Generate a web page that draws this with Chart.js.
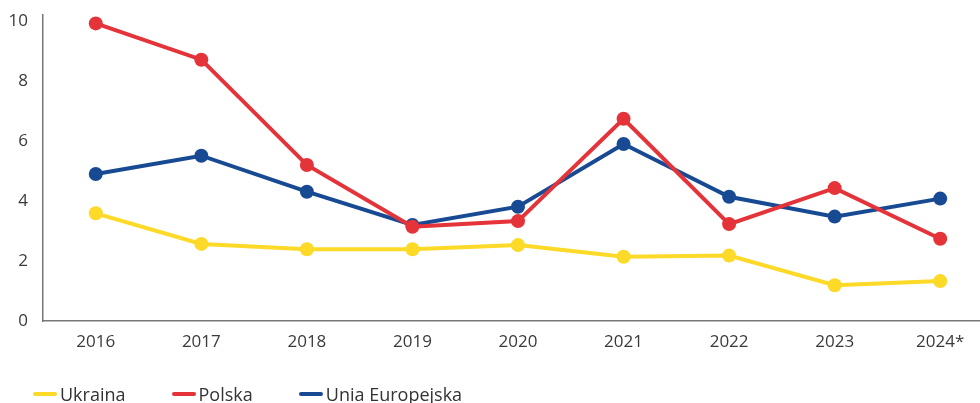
<!DOCTYPE html>
<html>
<head>
<meta charset="utf-8">
<script src="https://cdn.jsdelivr.net/npm/chart.js@4.4.1/dist/chart.umd.min.js"></script>
<style>
  html, body { margin: 0; padding: 0; background: #fff; overflow: hidden; }
  #wrap { position: relative; width: 980px; height: 403px; overflow: hidden; }
  #box { position: absolute; left: 0; top: 0; width: 1000px; height: 403px; }
  #legend { position: absolute; left: 33px; top: 384px; display: flex; font-family: "Open Sans", sans-serif; font-size: 18px; color: #333; line-height: 20px; }
  #legend .item { display: flex; align-items: center; margin-right: 46px; }
  #legend .swatch { width: 24px; height: 4px; margin-right: 3px; border-radius: 2px; }
</style>
</head>
<body>
<div id="wrap">
  <div id="box"><canvas id="myChart1" width="1000" height="403"></canvas></div>
  <div id="legend"></div>
</div>
<script>
  // data
  var years = ['2016', '2017', '2018', '2019', '2020', '2021', '2022', '2023', '2024*'];
  var ukraina = [3.59, 2.57, 2.39, 2.39, 2.53, 2.14, 2.18, 1.19, 1.33];
  var polska = [9.92, 8.71, 5.2, 3.14, 3.33, 6.74, 3.23, 4.43, 2.74];
  var uniaEuropejska = [4.9, 5.51, 4.31, 3.2, 3.81, 5.9, 4.14, 3.48, 4.08];
  var yTicks = [0, 2, 4, 6, 8, 10];

  var seriesNames = ['Ukraina', 'Polska', 'Unia Europejska'];
  var seriesColors = ['#fdd928', '#e5333a', '#184a93'];
  var seriesData = [ukraina, polska, uniaEuropejska];

  var datasets = seriesNames.map(function (name, i) {
    return {
      label: name,
      data: seriesData[i],
      borderColor: seriesColors[i],
      backgroundColor: seriesColors[i],
      borderWidth: 4,
      pointRadius: 7,
      pointHoverRadius: 7,
      pointBorderWidth: 0,
      fill: false,
      tension: 0
    };
  });

  var tickFont = { family: '"Open Sans", sans-serif', size: 17 };

  var ctx = document.getElementById('myChart1').getContext('2d');
  var myChart = new Chart(ctx, {
    type: 'line',
    data: { labels: years, datasets: datasets },
    options: {
      responsive: false,
      animation: false,
      layout: { padding: { top: 15, right: 5, bottom: 42, left: 0 } },
      plugins: {
        legend: { display: false },
        tooltip: { enabled: false }
      },
      scales: {
        x: {
          offset: true,
          grid: { display: false, drawTicks: false },
          border: { display: true, color: '#777', width: 1.5 },
          ticks: { color: '#3a3a3a', font: tickFont, padding: 11, maxRotation: 0 },
          afterFit: function (scale) { scale.height = 40; }
        },
        y: {
          min: 0,
          max: 10.2,
          grid: { display: false, drawTicks: false },
          border: { display: true, color: '#777', width: 1.5 },
          ticks: { color: '#3a3a3a', font: tickFont, padding: 15 },
          afterBuildTicks: function (scale) {
            scale.ticks = yTicks.map(function (v) { return { value: v }; });
          },
          afterFit: function (scale) {
            scale.width = 43;
            scale.paddingTop = 0;
            scale.paddingBottom = 0;
          }
        }
      }
    }
  });

  // legend below the chart
  var legend = document.getElementById('legend');
  seriesNames.forEach(function (name, i) {
    var item = document.createElement('div');
    item.className = 'item';
    item.innerHTML = '<span class="swatch" style="background:' + seriesColors[i] + '"></span><span>' + name + '</span>';
    legend.appendChild(item);
  });
</script>
</body>
</html>
